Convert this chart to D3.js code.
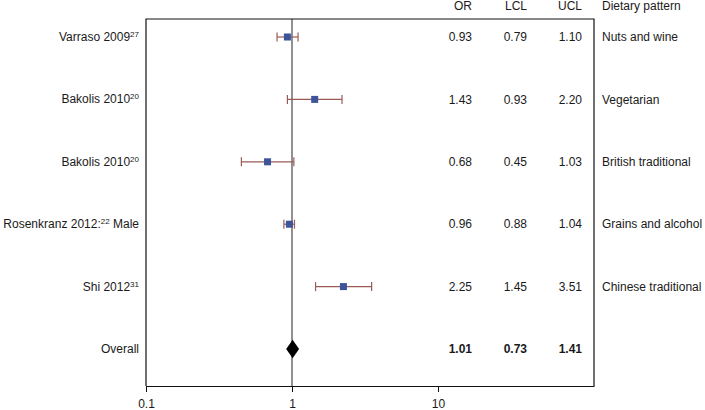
<!DOCTYPE html>
<html>
<head>
<meta charset="utf-8">
<script src="https://cdn.jsdelivr.net/npm/d3@7"></script>
<style>
  body { margin: 0; background: #fff; }
  text { font-family: "Liberation Sans", Arial, sans-serif; fill: #1a1a1a; }
</style>
</head>
<body>
<script>
// study rows
const studies = ["Varraso 2009", "Bakolis 2010", "Bakolis 2010", "Rosenkranz 2012:", "Shi 2012", "Overall"];
const refs = ["27", "20", "20", "22", "31", ""];
const suffix = ["", "", "", " Male", "", ""];
const orVals = [0.93, 1.43, 0.68, 0.96, 2.25, 1.01];
const lclVals = [0.79, 0.93, 0.45, 0.88, 1.45, 0.73];
const uclVals = [1.10, 2.20, 1.03, 1.04, 3.51, 1.41];
const patterns = ["Nuts and wine", "Vegetarian", "British traditional", "Grains and alcohol", "Chinese traditional", ""];
const xTicks = [0.1, 1, 10];

const w = 705, h = 410;
const pLeft = 146, pRight = 594, pTop = 19, pBottom = 386;

const svg = d3.select("body").append("svg")
  .attr("width", w)
  .attr("height", h);

const xScale = d3.scaleLog()
  .domain([0.1, Math.pow(10, (pRight - pLeft) / 146 - 1)])
  .range([pLeft, pRight]);

const yScale = d3.scalePoint()
  .domain(d3.range(studies.length))
  .range([37, 349]);

// frame
svg.append("path")
  .attr("d", `M${pLeft},${pBottom}V${pTop}H${pRight}V${pBottom}`)
  .attr("fill", "none")
  .attr("stroke", "#111")
  .attr("stroke-width", 1.2);

// x axis
const xAxis = d3.axisBottom(xScale)
  .tickValues(xTicks)
  .tickFormat(d3.format("~g"))
  .tickSize(6)
  .tickSizeOuter(0);
const gx = svg.append("g")
  .attr("transform", "translate(0," + pBottom + ")")
  .call(xAxis);
gx.select(".domain").attr("stroke", "#111").attr("stroke-width", 1.2);
gx.selectAll(".tick line").attr("stroke", "#111");
gx.selectAll(".tick text")
  .attr("y", 13)
  .style("font-size", "12px")
  .style("font-family", '"Liberation Sans", Arial, sans-serif')
  .attr("fill", "#1a1a1a");

// line of no effect
svg.append("line")
  .attr("x1", xScale(1)).attr("x2", xScale(1))
  .attr("y1", pTop).attr("y2", pBottom)
  .attr("stroke", "#222")
  .attr("stroke-width", 1);

const rows = d3.range(studies.length - 1);

// whiskers
const g = svg.append("g");
g.selectAll("line.ci")
  .data(rows)
  .enter()
  .append("line")
  .attr("class", "ci")
  .attr("x1", i => xScale(lclVals[i]))
  .attr("x2", i => xScale(uclVals[i]))
  .attr("y1", i => yScale(i))
  .attr("y2", i => yScale(i))
  .attr("stroke", "#9c5a55")
  .attr("stroke-width", 1.2);
["lcl", "ucl"].forEach(function(k) {
  const vals = k == "lcl" ? lclVals : uclVals;
  g.selectAll("line." + k)
    .data(rows)
    .enter()
    .append("line")
    .attr("class", k)
    .attr("x1", i => xScale(vals[i]))
    .attr("x2", i => xScale(vals[i]))
    .attr("y1", i => yScale(i) - 4.5)
    .attr("y2", i => yScale(i) + 4.5)
    .attr("stroke", "#9c5a55")
    .attr("stroke-width", 1.2);
});

// point estimates
g.selectAll("rect")
  .data(rows)
  .enter()
  .append("rect")
  .attr("x", i => xScale(orVals[i]) - 3.5)
  .attr("y", i => yScale(i) - 3.5)
  .attr("width", 7)
  .attr("height", 7)
  .attr("fill", "#3c5499");

// overall diamond
const last = studies.length - 1;
g.append("path")
  .attr("d", d3.symbol().type(d3.symbolDiamond).size(100))
  .attr("transform", "translate(" + xScale(orVals[last]) + "," + yScale(last) + ") scale(1.2,1)")
  .attr("fill", "#000");

// left labels
const lab = svg.append("g")
  .selectAll("text")
  .data(d3.range(studies.length))
  .enter()
  .append("text")
  .attr("x", 139)
  .attr("y", i => yScale(i) + 4)
  .attr("text-anchor", "end")
  .style("font-size", "12px");
lab.append("tspan").text(i => studies[i]);
lab.append("tspan")
  .attr("dy", -4)
  .style("font-size", "8px")
  .text(i => refs[i]);
lab.append("tspan")
  .attr("dy", 4)
  .text(i => suffix[i]);

// table columns
const cols = [
  { head: "OR", x: 472, vals: orVals },
  { head: "LCL", x: 527, vals: lclVals },
  { head: "UCL", x: 582, vals: uclVals }
];
cols.forEach(function(c) {
  svg.append("text")
    .attr("x", c.x).attr("y", 6)
    .attr("dy", "0.35em")
    .attr("text-anchor", "end")
    .style("font-size", "12px")
    .text(c.head);
  svg.append("g").selectAll("text")
    .data(d3.range(studies.length))
    .enter()
    .append("text")
    .attr("x", c.x)
    .attr("y", i => yScale(i))
    .attr("dy", "0.35em")
    .attr("text-anchor", "end")
    .style("font-size", "12px")
    .style("font-weight", i => i == last ? "bold" : null)
    .text(i => c.vals[i].toFixed(2));
});

svg.append("text")
  .attr("x", 602).attr("y", 6)
  .attr("dy", "0.35em")
  .style("font-size", "12px")
  .text("Dietary pattern");
svg.append("g").selectAll("text")
  .data(d3.range(studies.length))
  .enter()
  .append("text")
  .attr("x", 602)
  .attr("y", i => yScale(i))
  .attr("dy", "0.35em")
  .style("font-size", "12px")
  .text(i => patterns[i]);
</script>
</body>
</html>
